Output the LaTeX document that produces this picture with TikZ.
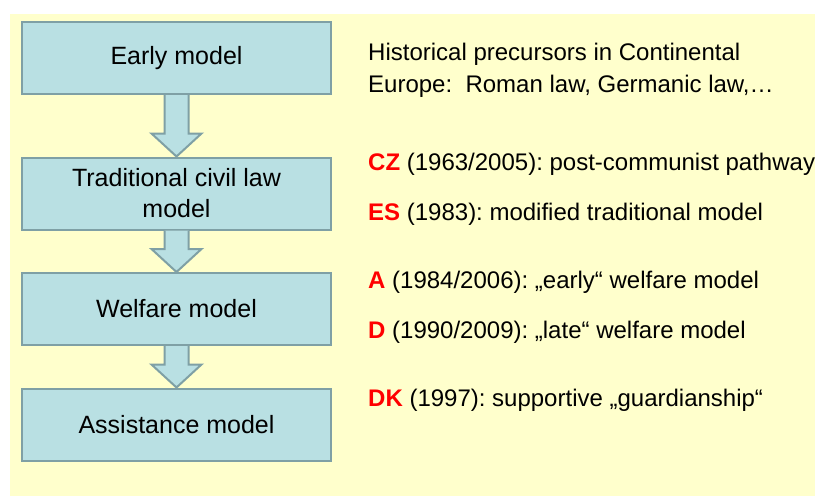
\documentclass[tikz,border=0pt]{standalone}
\usepackage{fontspec}
\setmainfont{Liberation Sans}
\usetikzlibrary{calc}
\definecolor{paper}{RGB}{255,255,204}
\definecolor{boxfill}{RGB}{185,224,227}
\definecolor{boxline}{RGB}{127,160,165}
\definecolor{keyred}{RGB}{255,0,0}
\newcommand{\cc}[1]{\textcolor{keyred}{\textbf{#1}}}
\frenchspacing
\begin{document}
\begin{tikzpicture}[x=1pt,y=-1pt,
        model/.style={draw=boxline,fill=boxfill,line width=2pt,minimum width=309pt,
            minimum height=72pt,align=center,inner sep=0pt,
            font=\fontsize{25}{31}\selectfont},
        note/.style={anchor=base west,inner sep=0pt,align=left,
            font=\fontsize{24}{32}\selectfont},
        fat/.style={draw=boxline,fill=boxfill,line width=2pt,line join=miter}]
    \useasboundingbox (0,0) rectangle (815,496);
    \fill[paper] (10,14) rectangle (815,496);

    \node[model] (early) at (176.5,58) {Early model};
    \node[model] (trad) at (176.5,193.5) {Traditional civil law\\model};
    \node[model] (welf) at (176.5,309) {Welfare model};
    \node[model] (assist) at (176.5,424.5) {Assistance model};

    \foreach \a/\b in {early/trad,trad/welf,welf/assist}
        \draw[fat] ($(\a.south)+(-12,0)$) -- ($(\b.north)+(-12,-23)$)
            -- ($(\b.north)+(-25,-23)$) -- (\b.north)
            -- ($(\b.north)+(25,-23)$) -- ($(\b.north)+(12,-23)$)
            -- ($(\a.south)+(12,0)$);

    % last line sits on the given baseline
    \node[note] (hist) at (368,92) {Historical precursors in Continental\\Europe:\ \ Roman law, Germanic law,\dots};
    \node[note] (cz) at (368,170) {\cc{CZ} (1963/2005): post-communist pathway};
    \node[note] (es) at (368,220) {\cc{ES} (1983): modified traditional model};
    \node[note] (at) at (368,288) {\cc{A} (1984/2006): „early“ welfare model};
    \node[note] (de) at (368,338) {\cc{D} (1990/2009): „late“ welfare model};
    \node[note] (dk) at (368,406) {\cc{DK} (1997): supportive „guardianship“};
\end{tikzpicture}
\end{document}
